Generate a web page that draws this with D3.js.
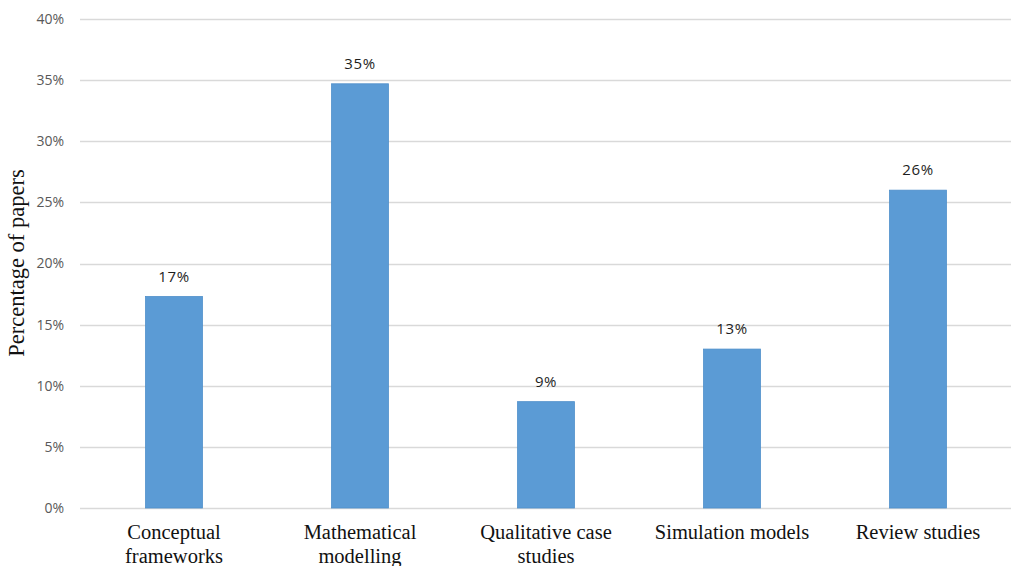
<!DOCTYPE html>
<html>
<head>
<meta charset="utf-8">
<script src="https://cdn.jsdelivr.net/npm/d3@7"></script>
<style>
  html, body { margin: 0; padding: 0; background: #fff; }
  svg { display: block; }
</style>
</head>
<body>
<svg id="chart" width="1011" height="566"></svg>
<script>
// Share of papers by research approach
const categories = [
  ["Conceptual", "frameworks"],
  ["Mathematical", "modelling"],
  ["Qualitative case", "studies"],
  ["Simulation models"],
  ["Review studies"]
];
const shares = [17.3, 34.7, 8.7, 13.0, 26.0];
const yTicks = [0, 5, 10, 15, 20, 25, 30, 35, 40];

const svg = d3.select("#chart");
const margin = { left: 80, right: 0, top: 19, bottom: 58 };
const W = 1011, H = 566;

const x = d3.scaleBand()
  .domain(d3.range(categories.length))
  .range([margin.left + 1, W - margin.right])
  .paddingInner(0.694)
  .paddingOuter(0.347);

const y = d3.scaleLinear()
  .domain([0, 40])
  .range([H - margin.bottom, margin.top]);

// gridlines
svg.append("g")
  .selectAll("line")
  .data(yTicks)
  .join("line")
  .attr("x1", margin.left)
  .attr("x2", W - margin.right)
  .attr("y1", d => Math.round(y(d)) + 0.5)
  .attr("y2", d => Math.round(y(d)) + 0.5)
  .attr("stroke", "#d9d9d9")
  .attr("stroke-width", 1.3);

// y axis tick labels
const yAxis = d3.axisLeft(y)
  .tickValues(yTicks)
  .tickFormat(d => d + "%")
  .tickSize(0)
  .tickPadding(16);
const gy = svg.append("g")
  .attr("transform", `translate(${margin.left},0)`)
  .call(yAxis);
gy.select(".domain").remove();
gy.selectAll("text")
  .attr("fill", "#595959")
  .style("font-family", "'Open Sans', 'DejaVu Sans', sans-serif")
  .style("font-size", "14px");

// bars
svg.append("g")
  .selectAll("rect")
  .data(shares)
  .join("rect")
  .attr("x", (d, i) => x(i))
  .attr("width", x.bandwidth())
  .attr("y", d => y(d))
  .attr("height", d => y(0) - y(d))
  .attr("fill", "#5b9bd5")
  .attr("stroke", "#4f8fca")
  .attr("stroke-width", 0.8);

// value labels
svg.append("g")
  .selectAll("text")
  .data(shares)
  .join("text")
  .attr("x", (d, i) => x(i) + x.bandwidth() / 2)
  .attr("y", d => y(d) - 15)
  .attr("text-anchor", "middle")
  .attr("fill", "#1e1e1e")
  .style("font-family", "'Open Sans', 'DejaVu Sans', sans-serif")
  .style("font-size", "15px")
  .style("letter-spacing", "0.6px")
  .text(d => Math.round(d) + "%");

// category labels
const cat = svg.append("g")
  .selectAll("text")
  .data(categories)
  .join("text")
  .attr("x", (d, i) => x(i) + x.bandwidth() / 2)
  .attr("y", 539)
  .attr("text-anchor", "middle")
  .attr("fill", "#111")
  .style("font-family", "'Liberation Serif', 'Times New Roman', serif")
  .style("font-size", "20.5px");
cat.selectAll("tspan")
  .data(d => d)
  .join("tspan")
  .attr("x", function () { return d3.select(this.parentNode).attr("x"); })
  .attr("dy", (d, i) => i === 0 ? 0 : 24)
  .text(d => d);

// y axis title
svg.append("text")
  .attr("transform", `translate(24,263) rotate(-90)`)
  .attr("text-anchor", "middle")
  .attr("fill", "#111")
  .style("font-family", "'Liberation Serif', 'Times New Roman', serif")
  .style("font-size", "22.5px")
  .text("Percentage of papers");
</script>
</body>
</html>
